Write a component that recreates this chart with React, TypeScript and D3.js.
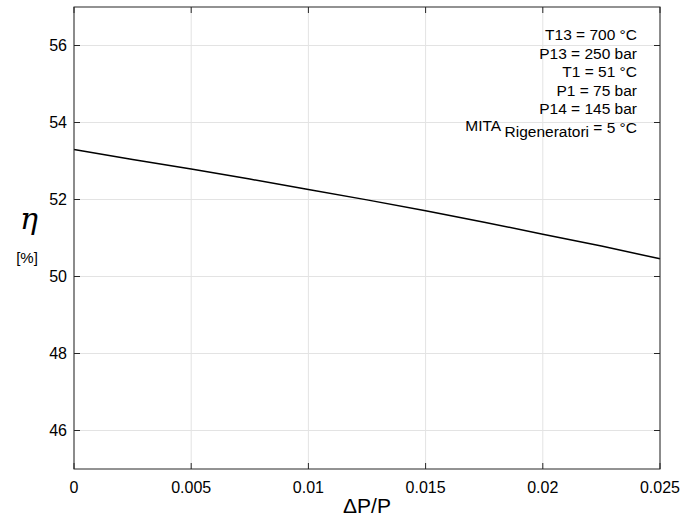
import React from "react";
import * as d3 from "d3";

const dpValues = [0, 0.0025, 0.005, 0.0075, 0.01, 0.0125, 0.015, 0.0175, 0.02, 0.0225, 0.025];
const etaValues = [53.3, 53.04, 52.79, 52.53, 52.26, 51.99, 51.71, 51.41, 51.1, 50.79, 50.46];
const xTicks = [0, 0.005, 0.01, 0.015, 0.02, 0.025];
const xTickLabels = ["0", "0.005", "0.01", "0.015", "0.02", "0.025"];
const yTicks = [46, 48, 50, 52, 54, 56];
const annotations = ["T13 = 700 °C", "P13 = 250 bar", "T1 = 51 °C", "P1 = 75 bar", "P14 = 145 bar"];

const W = 683;
const H = 519;
const L = 74, R = 660, T = 7, B = 469;

export default function App() {
  const x = d3.scaleLinear().domain([0, 0.025]).range([L, R]);
  const y = d3.scaleLinear().domain([45, 57]).range([B, T]);
  const pts: [number, number][] = dpValues.map((d, i) => [d, etaValues[i]]);
  const line = d3.line<[number, number]>().x(d => x(d[0])).y(d => y(d[1]));
  const font = "'Liberation Sans', Arial, Helvetica, sans-serif";
  const axisColor = "#262626";
  const tl = 6;
  return (
    <svg width={W} height={H} style={{ position: "absolute", left: 0, top: 0, background: "#fff" }} fontFamily={font}>
      <rect x={0} y={0} width={W} height={H} fill="#fff" />
      {/* grid */}
      {xTicks.map(t => (
        <line key={"gx" + t} x1={x(t)} x2={x(t)} y1={T} y2={B} stroke="#e3e3e3" strokeWidth={1} />
      ))}
      {yTicks.map(t => (
        <line key={"gy" + t} x1={L} x2={R} y1={y(t)} y2={y(t)} stroke="#e3e3e3" strokeWidth={1} />
      ))}
      {/* data line */}
      <path d={line(pts) || ""} fill="none" stroke="#000" strokeWidth={1.5} />
      {/* box */}
      <rect x={L} y={T} width={R - L} height={B - T} fill="none" stroke={axisColor} strokeWidth={1} />
      {/* ticks */}
      {xTicks.map(t => (
        <g key={"tx" + t}>
          <line x1={x(t)} x2={x(t)} y1={B} y2={B - tl} stroke={axisColor} />
          <line x1={x(t)} x2={x(t)} y1={T} y2={T + tl} stroke={axisColor} />
        </g>
      ))}
      {yTicks.map(t => (
        <g key={"ty" + t}>
          <line x1={L} x2={L + tl} y1={y(t)} y2={y(t)} stroke={axisColor} />
          <line x1={R} x2={R - tl} y1={y(t)} y2={y(t)} stroke={axisColor} />
        </g>
      ))}
      {/* tick labels */}
      {xTicks.map((t, i) => (
        <text key={"lx" + t} x={x(t)} y={493} textAnchor="middle" fontSize={16} fill="#000">
          {xTickLabels[i]}
        </text>
      ))}
      {yTicks.map(t => (
        <text key={"ly" + t} x={67} y={y(t)} dy="0.35em" textAnchor="end" fontSize={16} fill="#000">
          {t}
        </text>
      ))}
      {/* axis labels */}
      <text x={367} y={513} textAnchor="middle" fontSize={21} fill="#000">ΔP/P</text>
      <text x={29} y={229} textAnchor="middle" fontSize={30} fontStyle="italic" fontFamily="'DejaVu Serif', 'Liberation Serif', serif" fill="#000">η</text>
      <text x={27} y={263} textAnchor="middle" fontSize={15} fill="#000">[%]</text>
      {/* annotations */}
      {annotations.map((a, i) => (
        <text key={a} x={637} y={40 + i * 18.6} textAnchor="end" fontSize={15.5} fill="#000">{a}</text>
      ))}
      <text x={637} y={131} textAnchor="end" fontSize={15.5} fill="#000">
        MITA <tspan dy={6}>Rigeneratori</tspan><tspan dy={-4}> = 5 °C</tspan>
      </text>
    </svg>
  );
}
